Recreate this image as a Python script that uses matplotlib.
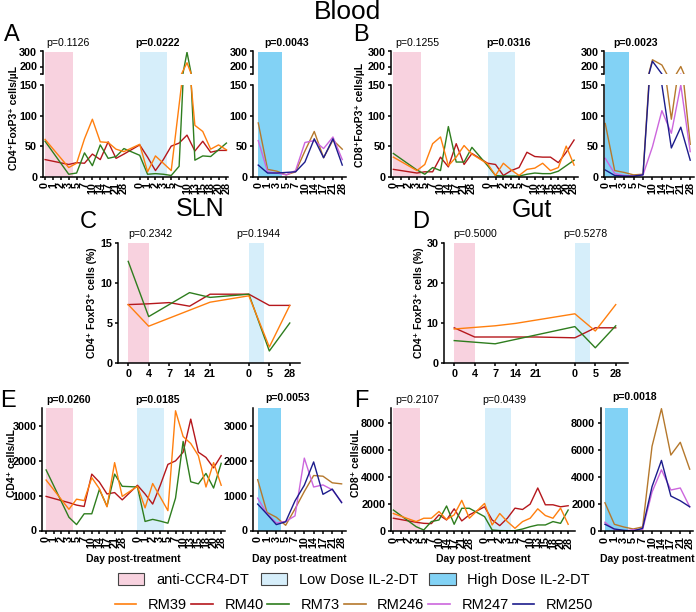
import numpy as np
import matplotlib
matplotlib.use("Agg")
import matplotlib.pyplot as plt
from matplotlib.patches import Patch
from matplotlib.lines import Line2D
from matplotlib.transforms import blended_transform_factory

plt.rcParams["font.family"] = ["Liberation Sans", "DejaVu Sans"]

# ---- data ------------------------------------------------------------------
LOW_DAYS = ["0", "1", "2", "3", "5", "7", "10", "14", "17", "21", "28",
            "0", "1", "2", "3", "5", "7", "10", "13", "15", "18", "20", "28"]
HIGH_DAYS = ["0", "1", "3", "5", "7", "10", "14", "17", "21", "28"]
TISSUE_DAYS = ["0", "4", "7", "14", "21", "0", "5", "28"]

# A: blood CD4+FoxP3+ cells/uL
A_RM39 = [61, None, None, 15, 22, 62, 94, 57, 56, 45, 41,
          53, 8, 34, 22, 10, None, 225, 84, 74, 45, 52, 44]
A_RM40 = [28, None, None, 20, 23, 22, 37, 28, 57, 30, 37,
          52, 32, 10, 28, 50, 55, 68, 42, 58, 40, 43, 43]
A_RM73 = [58, None, None, 4, 6, 39, 18, 52, 30, 33, 46,
          35, 4, 5, 4, 2, 17, 295, 27, 34, 33, 44, 55]
A_RM246 = [88, 12, 9, 3, 8, 42, 74, 31, 60, 45]
A_RM247 = [59, 8, 6, 3, 10, 56, 59, 46, 65, 28]
A_RM250 = [19, 6, 6, 7, 8, 24, 62, 31, 62, 19]

# B: blood CD8+FoxP3+ cells/uL
B_RM39 = [32, None, None, 10, 20, 54, 65, 18, 32, 51, 37,
          21, 2, 22, 11, 2, 12, 14, 22, 10, 15, 50, 19]
B_RM40 = [12, None, None, 6, 8, 8, 32, 16, 54, 20, 38,
          22, 20, 2, 10, 15, 40, 33, 32, 32, 23, 40, 60]
B_RM73 = [38, None, None, 11, 4, 15, 10, 82, 24, 24, 48,
          18, 2, 1, 1, 1, 4, 6, 5, 5, 9, 18, 27]
B_RM246 = [87, 10, 7, 3, 4, 245, 210, 94, 200, 53]
B_RM247 = [30, 5, 2, 1, 3, 49, 108, 71, 150, 41]
B_RM250 = [11, 2, 1, 1, 3, 235, 150, 47, 81, 27]

# C: SLN CD4+ FoxP3+ (%)
C_RM39 = [7.3, 4.6, None, None, 7.6, 8.4, 2.0, 7.2]
C_RM40 = [7.3, 7.4, 7.55, 7.1, 8.6, 8.6, 7.2, 7.2]
C_RM73 = [12.7, 5.8, None, 8.8, 8.2, 8.6, 1.5, 5.0]

# D: gut CD4+ FoxP3+ (%)
D_RM39 = [8.5, 8.9, 9.3, 9.9, None, 12.3, 8.0, 14.6]
D_RM40 = [8.8, 6.5, 6.5, 6.5, 6.5, 6.3, 8.8, 8.8]
D_RM73 = [5.6, None, 4.8, None, None, 9.1, 3.8, 9.3]

# E: blood CD4+ cells/uL
E_RM39 = [1450, None, None, 610, 900, 860, 1520, 1200, 680, 1950, 980,
          1270, 650, 1350, 960, 570, 3440, 2700, 2500, 2150, 1250, 1950, 1300]
E_RM40 = [980, None, None, 800, 730, 690, 1620, 1390, 1050, 1090, 880,
          1300, 1050, 760, 1300, 1900, 2000, 2250, 3200, 2250, 2100, 1800, 2150]
E_RM73 = [1740, None, None, 380, 170, 480, 480, 1180, 700, 1620, 1270,
          1250, 260, 320, 270, 210, 930, 2560, 1400, 1340, 1640, 1220, 1930]
E_RM246 = [1460, 520, 380, 150, 620, 1120, 1580, 1560, 1370, 1340]
E_RM247 = [930, 480, 220, 260, 420, 2080, 1250, 1310, 1170, 820]
E_RM250 = [760, 470, 170, 250, 850, 1300, 1970, 1040, 1190, 800]

# F: blood CD8+ cells/uL
F_RM39 = [1300, None, None, 700, 950, 950, 1450, 850, 1200, 2280, 950,
          2050, 450, 1300, 700, 200, 700, 950, 1650, 1150, 950, 1700, 500]
F_RM40 = [950, None, None, 650, 570, 550, 1200, 820, 1650, 750, 1200,
          1800, 820, 400, 950, 1700, 1600, 2000, 3200, 1950, 1950, 1800, 1880]
F_RM73 = [1560, None, None, 320, 75, 700, 820, 1860, 500, 1690, 1690,
          1070, 75, 30, 20, 25, 150, 320, 450, 450, 700, 570, 1560]
F_RM246 = [2100, 500, 300, 150, 300, 6300, 9100, 5650, 6600, 4600]
F_RM247 = [650, 100, 0, 100, 100, 2900, 4550, 3050, 3200, 1800]
F_RM250 = [500, 150, 50, 0, 200, 3300, 5250, 2600, 2250, 1800]

# ---- style -----------------------------------------------------------------
C39, C40, C73 = "#ff7f0e", "#b5171c", "#2e7d1e"
C246, C247, C250 = "#b5782c", "#cc66dd", "#1c1c8c"
PINK, LBLUE, HBLUE = "#f8d2df", "#d6eefa", "#82d2f5"

W, H = 696, 612
fig = plt.figure(figsize=(W / 100, H / 100), dpi=100)

LOW_POS = list(range(11)) + list(range(12, 24))
HIGH_POS = list(range(10))
TISSUE_POS = [0, 1, 2, 3, 4, 5.9, 6.9, 7.9]


def px_axes(left, top, right, bottom):
    return fig.add_axes([left / W, 1 - bottom / H, (right - left) / W, (bottom - top) / H])


def draw(ax, pos, series):
    for vals, color in series:
        y = np.array([np.nan if v is None else v for v in vals], dtype=float)
        m = ~np.isnan(y)
        ax.plot(np.asarray(pos, dtype=float)[m], y[m], color=color, lw=1.0)


def style(ax, left_only=False):
    for s in ("top", "right"):
        ax.spines[s].set_visible(False)
    for s in ("left", "bottom"):
        ax.spines[s].set_linewidth(1.1)
    if left_only:
        ax.spines["bottom"].set_visible(False)
        ax.set_xticks([])
    ax.tick_params(direction="out", length=2.5, width=1.1, labelsize=7.8, pad=1.5)
    for lbl in ax.get_yticklabels():
        lbl.set_fontweight("bold")


def set_xt(ax, pos, labels, rot=90, size=6.2):
    ax.set_xticks(pos)
    ax.set_xticklabels(labels, rotation=rot, fontsize=size, fontweight="bold")


def pval(ax, x, ypx, text, bold):
    tr = blended_transform_factory(ax.transData, fig.transFigure)
    ax.text(x, 1 - ypx / H, text, transform=tr, ha="center", va="center",
            fontsize=7.6, fontweight="bold" if bold else "normal", clip_on=False)


def blood(left, right, xlim, pos, labels, series, bands, yticks_up=(200, 300)):
    top_up, bot_up, top_lo, bot_lo = 51.5, 74, 85, 176.7
    bg = px_axes(left, top_up, right, bot_lo)
    bg.set_xlim(*xlim)
    bg.axis("off")
    for x0, x1, c in bands:
        bg.axvspan(x0, x1, color=c, lw=0)
    up = px_axes(left, top_up, right, bot_up)
    lo = px_axes(left, top_lo, right, bot_lo)
    for ax in (up, lo):
        ax.patch.set_visible(False)
        ax.set_xlim(*xlim)
        draw(ax, pos, series)
    up.set_ylim(150, 300)
    up.set_yticks(list(yticks_up))
    up.set_yticks([150], minor=True)
    style(up, left_only=True)
    up.tick_params(which="minor", length=2.5, width=1.1)
    lo.set_ylim(0, 150)
    lo.set_yticks([0, 50, 100, 150])
    set_xt(lo, pos, labels)
    style(lo)
    return lo


def simple(left, top, right, bottom, xlim, ylim, yticks, pos, labels, series, bands,
           rot=90, xsize=6.2):
    ax = px_axes(left, top, right, bottom)
    ax.set_xlim(*xlim)
    ax.set_ylim(*ylim)
    for x0, x1, c in bands:
        ax.axvspan(x0, x1, color=c, lw=0, zorder=0)
    draw(ax, pos, series)
    ax.set_yticks(yticks)
    set_xt(ax, pos, labels, rot=rot, size=xsize)
    style(ax)
    return ax


low_bands = [(0, 3.5, PINK), (12, 15.5, LBLUE)]
high_bands = [(0, 2.5, HBLUE)]
tis_bands = [(0, 1, PINK), (5.9, 6.65, LBLUE)]

# A
a1 = blood(42.7, 228, (-0.3, 23.2), LOW_POS, LOW_DAYS,
           [(A_RM40, C40), (A_RM73, C73), (A_RM39, C39)], low_bands)
a2 = blood(253.3, 346, (-0.53, 9.4), HIGH_POS, HIGH_DAYS,
           [(A_RM246, C246), (A_RM247, C247), (A_RM250, C250)], high_bands)
pval(a1, 2.9, 43, "p=0.1126", False)
pval(a1, 14.2, 43, "p=0.0222", True)
pval(a2, 3.0, 43, "p=0.0043", True)

# B
b1 = blood(391, 578, (-0.3, 23.5), LOW_POS, LOW_DAYS,
           [(B_RM40, C40), (B_RM73, C73), (B_RM39, C39)], low_bands)
b2 = blood(604.3, 694, (-0.1, 9.4), HIGH_POS, HIGH_DAYS,
           [(B_RM246, C246), (B_RM247, C247), (B_RM250, C250)], high_bands)
pval(b1, 3.0, 43, "p=0.1255", False)
pval(b1, 14.6, 43, "p=0.0316", True)
pval(b2, 3.2, 43, "p=0.0023", True)

# C, D
c = simple(118, 243, 300, 363, (-0.5, 8.4), (0, 15), [0, 5, 10, 15], TISSUE_POS, TISSUE_DAYS,
           [(C_RM40, C40), (C_RM73, C73), (C_RM39, C39)], tis_bands, rot=0, xsize=7.5)
d = simple(444, 243, 628, 363, (-0.5, 8.5), (0, 30), [0, 10, 20, 30], TISSUE_POS, TISSUE_DAYS,
           [(D_RM40, C40), (D_RM73, C73), (D_RM39, C39)], tis_bands, rot=0, xsize=7.5)
pval(c, 1.07, 234, "p=0.2342", False)
pval(c, 6.34, 234, "p=0.1944", False)
pval(d, 1.02, 234, "p=0.5000", False)
pval(d, 6.4, 234, "p=0.5278", False)

# E, F
e1 = simple(42.3, 408, 225, 530.5, (-0.5, 23.5), (0, 3520), [0, 1000, 2000, 3000], LOW_POS, LOW_DAYS,
            [(E_RM40, C40), (E_RM73, C73), (E_RM39, C39)], low_bands)
e2 = simple(253.3, 408, 346, 530.5, (-0.47, 9.47), (0, 3520), [0, 1000, 2000, 3000], HIGH_POS, HIGH_DAYS,
            [(E_RM246, C246), (E_RM247, C247), (E_RM250, C250)], high_bands)
f1 = simple(390.7, 408, 575, 531, (-0.35, 23.9), (0, 9150), [0, 2000, 4000, 6000, 8000], LOW_POS, LOW_DAYS,
            [(F_RM40, C40), (F_RM73, C73), (F_RM39, C39)], low_bands)
f2 = simple(600.7, 408, 693, 531, (-0.45, 9.35), (0, 9150), [0, 2000, 4000, 6000, 8000], HIGH_POS, HIGH_DAYS,
            [(F_RM246, C246), (F_RM247, C247), (F_RM250, C250)], high_bands)
pval(e1, 2.9, 400, "p=0.0260", True)
pval(e1, 14.7, 400, "p=0.0185", True)
pval(e2, 3.25, 398, "p=0.0053", True)
pval(f1, 3.1, 400, "p=0.2107", False)
pval(f1, 14.6, 400, "p=0.0439", False)
pval(f2, 3.2, 397, "p=0.0018", True)


def ftext(x, y, s, **kw):
    fig.text(x / W, 1 - y / H, s, ha="center", va="center", **kw)


# titles, panel letters, axis labels
ftext(348, 12, "Blood", fontsize=19)
ftext(200, 209, "SLN", fontsize=18)
ftext(532, 210, "Gut", fontsize=18)
for letter, x, y in [("A", 12, 35), ("B", 361, 35), ("C", 88, 222),
                     ("D", 421, 222), ("E", 8, 401), ("F", 361, 401)]:
    ftext(x, y, letter, fontsize=17)

ylab = dict(rotation=90, fontsize=7.5, fontweight="bold")
ftext(14, 118, "CD4⁺FoxP3⁺ cells/µL", **ylab)
ftext(360, 115, "CD8⁺FoxP3⁺ cells/µL", **ylab)
ftext(92, 303, "CD4⁺ FoxP3⁺ cells (%)", **ylab)
ftext(419, 303, "CD4⁺ FoxP3⁺ cells (%)", **ylab)
ftext(12, 463, "CD4⁺ cells/uL", **ylab)
ftext(356, 463, "CD8⁺ cells/uL", **ylab)

for x in (133.7, 299.7, 483, 647):
    ftext(x, 559, "Day post-treatment", fontsize=7.5, fontweight="bold")

# legends
row1 = [Patch(facecolor=PINK, edgecolor="#444444", lw=0.8, label="anti-CCR4-DT"),
        Patch(facecolor=LBLUE, edgecolor="#444444", lw=0.8, label="Low Dose IL-2-DT"),
        Patch(facecolor=HBLUE, edgecolor="#444444", lw=0.8, label="High Dose IL-2-DT")]
fig.legend(handles=row1, loc="center", bbox_to_anchor=(354 / W, 1 - 580 / H), ncol=3,
           frameon=False, fontsize=10.5, handlelength=1.8, handleheight=0.95,
           handletextpad=0.8, columnspacing=0.8, borderpad=0, borderaxespad=0)
row2 = [Line2D([], [], color=c_, lw=1.2, label=l_) for c_, l_ in
        [(C39, "RM39"), (C40, "RM40"), (C73, "RM73"),
         (C246, "RM246"), (C247, "RM247"), (C250, "RM250")]]
fig.legend(handles=row2, loc="center", bbox_to_anchor=(354 / W, 1 - 605 / H), ncol=6,
           frameon=False, fontsize=10.5, handlelength=1.5,
           handletextpad=0.8, columnspacing=0.25, borderpad=0, borderaxespad=0)

fig.savefig("out.png", dpi=100)
